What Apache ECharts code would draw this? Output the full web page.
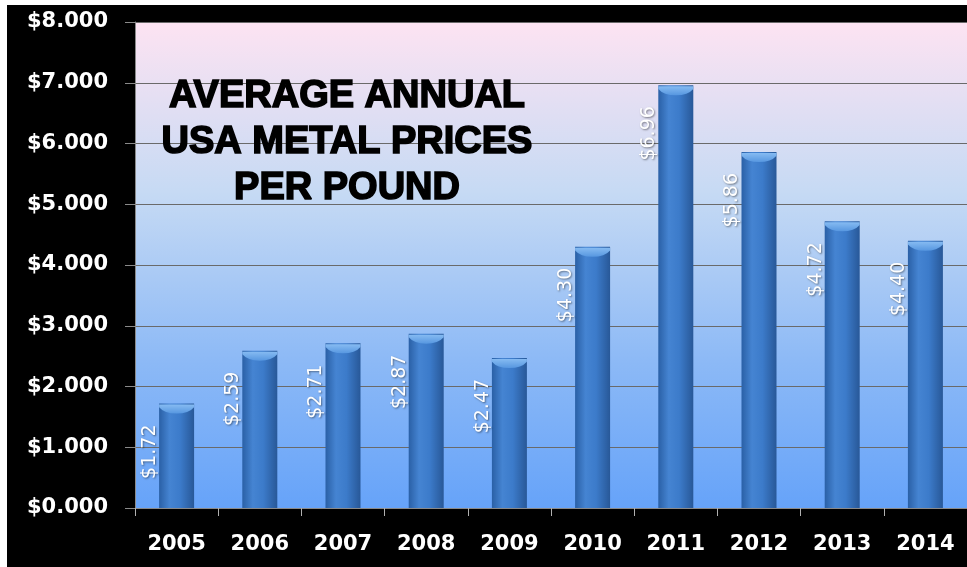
<!DOCTYPE html>
<html>
<head>
<meta charset="utf-8">
<script src="https://cdn.jsdelivr.net/npm/echarts@6/dist/echarts.min.js"></script>
<style>
  html, body { margin: 0; padding: 0; background: #ffffff; }
  #chart { position: absolute; left: 7px; top: 5px; width: 960px; height: 562px; background: #000; }
</style>
</head>
<body>
<div id="chart"></div>
<script>
// Average annual USA metal prices per pound, 2005-2014
const years = ['2005', '2006', '2007', '2008', '2009', '2010', '2011', '2012', '2013', '2014'];
const prices = [1.72, 2.59, 2.71, 2.87, 2.47, 4.30, 6.96, 5.86, 4.72, 4.40];
const yTicks = { min: 0, max: 8, interval: 1 };
const titleLines = ['AVERAGE ANNUAL', 'USA METAL PRICES', 'PER POUND'];

const chart = echarts.init(document.getElementById('chart'));

const barFill = new echarts.graphic.LinearGradient(0, 0, 1, 0, [
  { offset: 0, color: '#2a60a6' },
  { offset: 0.3, color: '#4584d2' },
  { offset: 0.6, color: '#3c7bca' },
  { offset: 1, color: '#285898' }
]);

// light bevel on the top of each column
const capFill = new echarts.graphic.LinearGradient(0, 0, 0, 1, [
  { offset: 0, color: '#86bbf2' },
  { offset: 1, color: '#5797e0' }
]);

chart.setOption({
  backgroundColor: '#000000',
  animation: false,
  grid: {
    left: 128,
    top: 17,
    width: 840,
    height: 486,
    show: true,
    borderWidth: 0,
    backgroundColor: new echarts.graphic.LinearGradient(0, 0, 0, 1, [
      { offset: 0, color: '#fde3f2' },
      { offset: 0.35, color: '#c6daf4' },
      { offset: 0.7, color: '#8cb9f6' },
      { offset: 1, color: '#66a3f9' }
    ])
  },
  graphic: [{
    type: 'text',
    z: 100,
    style: {
      text: titleLines.join('\n'),
      x: 340,
      y: 138,
      align: 'center',
      verticalAlign: 'middle',
      fill: '#000000',
      stroke: '#000000',
      lineWidth: 1.6,
      fontFamily: 'Liberation Sans',
      fontWeight: 'bold',
      fontSize: 38,
      lineHeight: 46
    }
  }],
  xAxis: {
    type: 'category',
    data: years,
    boundaryGap: true,
    axisLine: { show: true, lineStyle: { color: '#8a8a8a', width: 1 } },
    axisTick: { show: true, length: 8, lineStyle: { color: '#b0b0b0' } },
    axisLabel: {
      color: '#ffffff',
      fontFamily: 'DejaVu Sans',
      fontWeight: 'bold',
      fontSize: 21,
      margin: 26
    }
  },
  yAxis: {
    type: 'value',
    min: yTicks.min,
    max: yTicks.max,
    interval: yTicks.interval,
    axisLine: { show: true, lineStyle: { color: '#8a8a8a', width: 1 } },
    axisTick: { show: true, length: 10, lineStyle: { color: '#8a8a8a' } },
    splitLine: { show: true, lineStyle: { color: '#6a6a6a', width: 1 } },
    axisLabel: {
      color: '#ffffff',
      fontFamily: 'DejaVu Sans',
      fontWeight: 'bold',
      fontSize: 21,
      margin: 27,
      formatter: v => '$' + v.toFixed(3)
    }
  },
  series: [{
    type: 'bar',
    data: prices,
    barWidth: 35,
    z: 2,
    itemStyle: { color: barFill },
    label: {
      show: true,
      position: [-9, 21],
      rotate: 90,
      align: 'right',
      verticalAlign: 'middle',
      color: '#ffffff',
      fontFamily: 'DejaVu Sans',
      fontSize: 19,
      textShadowColor: 'rgba(0,0,0,0.45)',
      textShadowBlur: 2,
      textShadowOffsetX: 1,
      textShadowOffsetY: 1,
      formatter: p => '$' + p.value.toFixed(2)
    }
  }, {
    type: 'pictorialBar',
    data: prices,
    z: 3,
    silent: true,
    symbol: 'path://M0,0 L40,0 L40,3 Q34,10 20,10 Q6,10 0,3 Z',
    symbolSize: [35, 9],
    symbolPosition: 'end',
    symbolOffset: [0, 1],
    itemStyle: { color: capFill },
    label: { show: false }
  }]
});
</script>
</body>
</html>
